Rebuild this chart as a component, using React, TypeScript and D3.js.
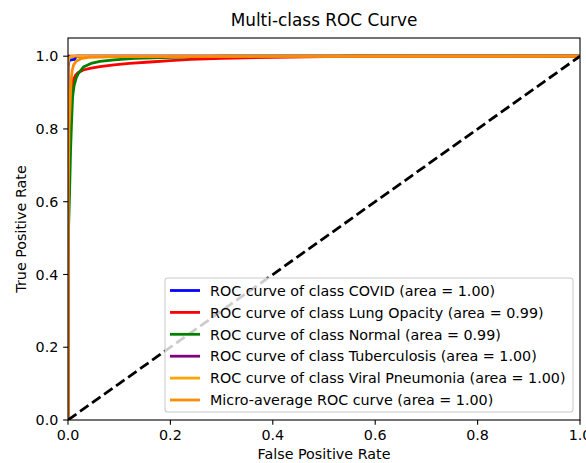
import React, { useEffect } from "react";
import * as d3 from "d3";

const classNames = ["COVID", "Lung Opacity", "Normal", "Tuberculosis", "Viral Pneumonia"];
const classAreas = ["1.00", "0.99", "0.99", "1.00", "1.00"];
const microArea = "1.00";
const seriesColors = ["blue", "red", "green", "purple", "orange", "darkorange"];

const covidFpr = [0, 0, 0.002, 0.006, 0.013, 0.016, 1];
const covidTpr = [0, 0.97, 0.988, 0.99, 0.991, 1, 1];

const lungFpr = [0, 0, 0.002, 0.004, 0.006, 0.008, 0.01, 0.015, 0.02, 0.03, 0.045, 0.0625, 0.09, 0.12, 0.16, 0.2, 0.24, 0.3, 0.4, 0.5, 0.55, 1];
const lungTpr = [0, 0.45, 0.78, 0.86, 0.9, 0.922, 0.934, 0.948, 0.955, 0.962, 0.967, 0.971, 0.976, 0.98, 0.984, 0.988, 0.991, 0.994, 0.997, 0.999, 1, 1];

const normalFpr = [0, 0, 0.001, 0.003, 0.004, 0.005, 0.007, 0.009, 0.012, 0.016, 0.02, 0.03, 0.045, 0.0625, 0.09, 0.13, 0.2, 0.3, 1];
const normalTpr = [0, 0.45, 0.52, 0.62, 0.68, 0.74, 0.82, 0.888, 0.92, 0.94, 0.952, 0.97, 0.98, 0.986, 0.99, 0.994, 0.997, 1, 1];

const tbFpr = [0, 0, 0.001, 1];
const tbTpr = [0, 0.995, 1, 1];

const viralFpr = [0, 0, 0.002, 0.006, 1];
const viralTpr = [0, 0.98, 0.995, 1, 1];

const microFpr = [0, 0, 0.002, 0.004, 0.005, 0.006, 0.008, 0.011, 0.016, 0.025, 0.04, 0.1, 1];
const microTpr = [0, 0.6, 0.8, 0.86, 0.9, 0.93, 0.96, 0.976, 0.986, 0.993, 0.997, 0.999, 1];

const xTicks = [0, 0.2, 0.4, 0.6, 0.8, 1.0];
const yTicks = [0, 0.2, 0.4, 0.6, 0.8, 1.0];

const W = 586;
const H = 463;
const ML = 68;
const MR = 580;
const MT = 38;
const MB = 420;
const FONT = "DejaVu Sans, sans-serif";
const LW = 2.78;
const FS = 14.3;

export default function App() {
  useEffect(() => {
    document.body.style.margin = "0";
  }, []);

  const x = d3.scaleLinear().domain([0, 1]).range([ML, MR]);
  const y = d3.scaleLinear().domain([0, 1.05]).range([MB, MT]);

  const series = [
    { fpr: covidFpr, tpr: covidTpr },
    { fpr: lungFpr, tpr: lungTpr },
    { fpr: normalFpr, tpr: normalTpr },
    { fpr: tbFpr, tpr: tbTpr },
    { fpr: viralFpr, tpr: viralTpr },
    { fpr: microFpr, tpr: microTpr },
  ];

  const line = d3
    .line<[number, number]>()
    .x((d) => x(d[0]))
    .y((d) => y(d[1]));

  const labels = [
    ...classNames.map((c, i) => `ROC curve of class ${c} (area = ${classAreas[i]})`),
    `Micro-average ROC curve (area = ${microArea})`,
  ];

  const legX = 165;
  const legY = 278;
  const legW = 408;
  const legH = 134;
  const rowY0 = 290.5;
  const rowStep = 21.9;

  return (
    <svg
      width={W}
      height={H}
      style={{ position: "absolute", left: 0, top: 0, background: "white" }}
      fontFamily={FONT}
    >
      <rect x={0} y={0} width={W} height={H} fill="white" />
      <defs>
        <clipPath id="plotClip">
          <rect x={ML} y={MT} width={MR - ML} height={MB - MT} />
        </clipPath>
      </defs>
      <g clipPath="url(#plotClip)">
        {series.map((s, i) => (
          <path
            key={i}
            d={line(s.fpr.map((f, j) => [f, s.tpr[j]] as [number, number])) || ""}
            fill="none"
            stroke={seriesColors[i]}
            strokeWidth={LW}
            strokeLinejoin="round"
          />
        ))}
        <path
          d={line([[0, 0], [1, 1]]) || ""}
          fill="none"
          stroke="black"
          strokeWidth={LW}
          strokeDasharray="10.3,4.45"
        />
      </g>
      {/* spines */}
      <rect x={ML} y={MT} width={MR - ML} height={MB - MT} fill="none" stroke="black" strokeWidth={1.1} />
      {/* x ticks */}
      {xTicks.map((t) => (
        <g key={"x" + t}>
          <line x1={x(t)} x2={x(t)} y1={MB} y2={MB + 4.86} stroke="black" strokeWidth={1.1} />
          <text x={x(t)} y={MB + 19.8} fontSize={FS} textAnchor="middle" fill="black">
            {t.toFixed(1)}
          </text>
        </g>
      ))}
      {/* y ticks */}
      {yTicks.map((t) => (
        <g key={"y" + t}>
          <line x1={ML - 4.86} x2={ML} y1={y(t)} y2={y(t)} stroke="black" strokeWidth={1.1} />
          <text x={ML - 9.7} y={y(t) + 5.2} fontSize={FS} textAnchor="end" fill="black">
            {t.toFixed(1)}
          </text>
        </g>
      ))}
      <text x={(ML + MR) / 2} y={459} fontSize={FS} textAnchor="middle" fill="black">
        False Positive Rate
      </text>
      <text
        transform={`translate(26, ${(MT + MB) / 2}) rotate(-90)`}
        fontSize={FS}
        textAnchor="middle"
        fill="black"
      >
        True Positive Rate
      </text>
      <text x={(ML + MR) / 2} y={26} fontSize={16.9} textAnchor="middle" fill="black">
        Multi-class ROC Curve
      </text>
      {/* legend */}
      <rect
        x={legX}
        y={legY}
        width={legW}
        height={legH}
        rx={2.8}
        fill="white"
        fillOpacity={0.8}
        stroke="#cccccc"
        strokeWidth={1.1}
      />
      {labels.map((lab, i) => (
        <g key={lab}>
          <line
            x1={170}
            x2={200}
            y1={rowY0 + i * rowStep}
            y2={rowY0 + i * rowStep}
            stroke={seriesColors[i]}
            strokeWidth={LW}
          />
          <text x={210} y={rowY0 + i * rowStep + 5.2} fontSize={FS} fill="black">
            {lab}
          </text>
        </g>
      ))}
    </svg>
  );
}
